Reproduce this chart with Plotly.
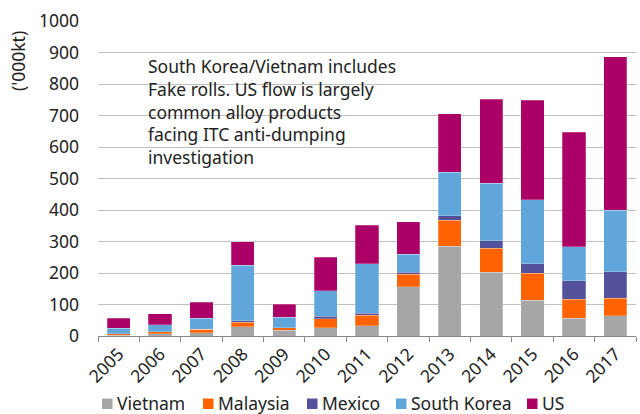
import plotly.graph_objects as go

years = ["2005", "2006", "2007", "2008", "2009", "2010", "2011", "2012", "2013", "2014", "2015", "2016", "2017"]
vietnam = [2, 7, 10, 29, 19, 26, 32, 156, 285, 203, 114, 56, 64]
malaysia = [5, 6, 11, 14, 7, 28, 34, 40, 83, 76, 85, 61, 56]
mexico = [0, 0, 0, 5, 0, 8, 6, 7, 14, 24, 31, 58, 84]
south_korea = [17, 23, 36, 177, 34, 82, 157, 56, 138, 182, 202, 109, 196]
us = [32, 35, 50, 74, 41, 106, 122, 104, 185, 266, 317, 363, 487]

series = [
    ("Vietnam", vietnam, "#A6A6A6"),
    ("Malaysia", malaysia, "#FF6200"),
    ("Mexico", mexico, "#525199"),
    ("South Korea", south_korea, "#60A6DA"),
    ("US", us, "#AB0066"),
]

FONT = "Noto Sans"
FS = 17.5
W, H = 640, 414
L, R, T, B = 98, 4, 21, 78
PW, PH = W - L - R, H - T - B

def px(x):
    return (x - L) / PW

def py(y):
    return (H - B - y) / PH

fig = go.Figure()
for name, vals, col in series:
    fig.add_trace(go.Bar(x=years, y=vals, name=name, marker_color=col,
                         marker_line=dict(color="rgba(255,255,255,0.5)", width=0.5)))

# manual legend (squares + text)
legend_x = [102, 203, 307, 396, 527]
shapes = []
annotations = []
for (name, vals, col), lx in zip(series, legend_x):
    shapes.append(dict(type="rect", xref="paper", yref="paper",
                       x0=px(lx), x1=px(lx + 10.5), y0=py(409), y1=py(398.5),
                       fillcolor=col, line=dict(width=0)))
    annotations.append(dict(text=name, xref="paper", yref="paper", x=px(lx + 14), y=py(402.5),
                            xanchor="left", yanchor="middle", showarrow=False,
                            font=dict(size=FS), borderpad=0))

annotations.append(dict(text="('000kt)", xref="paper", yref="paper", x=px(18), y=py(61),
                        textangle=-90, showarrow=False, font=dict(size=FS),
                        xanchor="center", yanchor="middle"))
annotations.append(dict(text="South Korea/Vietnam includes<br>Fake rolls. US flow is largely<br>common alloy products<br>facing ITC anti-dumping<br>investigation",
                        xref="paper", yref="paper", x=px(146), y=py(52), xanchor="left", yanchor="top",
                        align="left", showarrow=False, font=dict(size=FS)))

fig.update_layout(
    barmode="stack",
    bargap=0.44,
    width=W, height=H,
    margin=dict(l=L, r=R, t=T, b=B),
    paper_bgcolor="white", plot_bgcolor="white",
    font=dict(family=FONT, size=FS, color="#222222"),
    showlegend=False,
    xaxis=dict(type="category", tickangle=-45, tickson="boundaries", ticks="outside",
               ticklen=5, tickcolor="#888888", showline=True, linecolor="#888888",
               tickfont=dict(size=FS), automargin=False),
    yaxis=dict(range=[0, 1000], dtick=100, showgrid=True, gridcolor="#BFBFBF",
               gridwidth=1, zeroline=False, tickfont=dict(size=FS), ticklabelstandoff=18,
               automargin=False),
    shapes=shapes,
    annotations=annotations,
)

fig.write_html("out.html")
